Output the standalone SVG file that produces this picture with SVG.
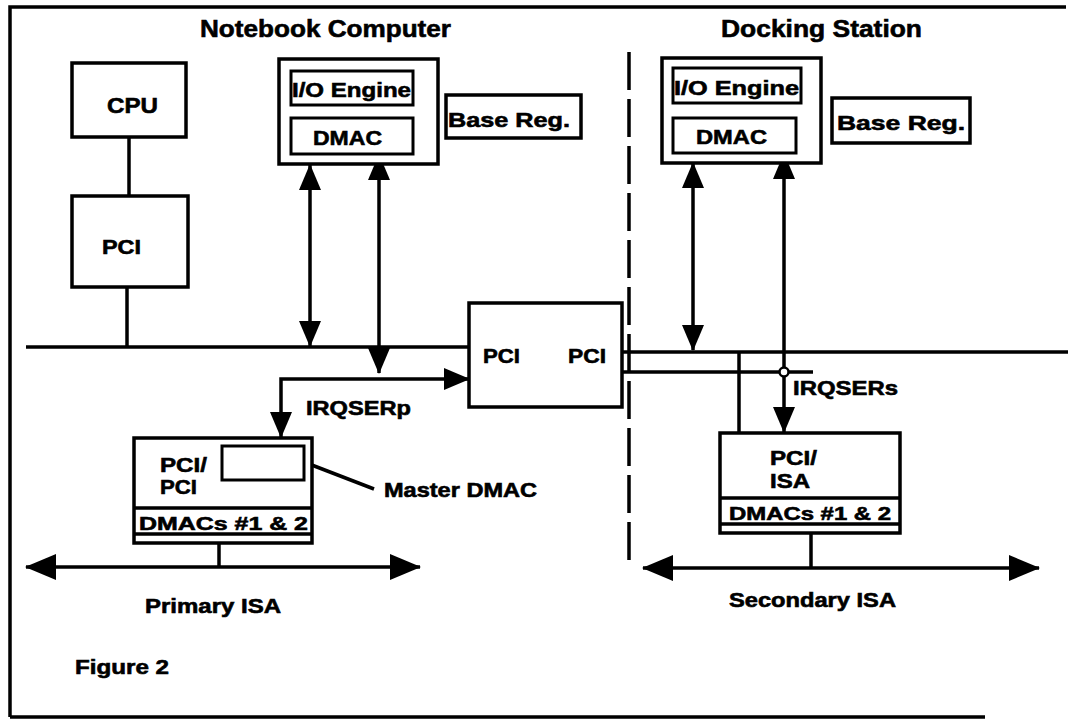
<svg xmlns="http://www.w3.org/2000/svg" width="1076" height="723" viewBox="0 0 1076 723">
<defs>
<style>
.bx{fill:#fff;stroke:#000;stroke-width:3.5}
.ib{fill:#fff;stroke:#000;stroke-width:3}
.ln{fill:none;stroke:#000;stroke-width:3.5}
.t{font-family:"Liberation Sans",Arial,sans-serif;font-weight:bold;fill:#000;stroke:#000;stroke-width:0.6}
</style>
<marker id="ah" viewBox="0 0 26 22" refX="25" refY="11" markerWidth="26" markerHeight="22" markerUnits="userSpaceOnUse" orient="auto-start-reverse"><path d="M0,0 L26,11 L0,22 Z" fill="#000"/></marker>
<marker id="ahl" viewBox="0 0 31 26" refX="30" refY="13" markerWidth="31" markerHeight="26" markerUnits="userSpaceOnUse" orient="auto-start-reverse"><path d="M0,0 L31,13 L0,26 Z" fill="#000"/></marker>
</defs>
<rect width="1076" height="723" fill="#fff"/>
<g id="frame">
<path class="ln" d="M10,717 V7 H1066 M10,717 H985" stroke-width="3"/>
<path class="ln" d="M629,52 V568" stroke-dasharray="38 9"/>
</g>
<g id="titles">
<text class="t" x="200" y="37" font-size="24" textLength="251" lengthAdjust="spacingAndGlyphs">Notebook Computer</text>
<text class="t" x="721" y="37" font-size="24" textLength="201" lengthAdjust="spacingAndGlyphs">Docking Station</text>
<text class="t" x="75" y="674" font-size="20" textLength="94" lengthAdjust="spacingAndGlyphs">Figure 2</text>
</g>
<g id="connectors">
<path class="ln" d="M129,137 V196"/>
<path class="ln" d="M127,287 V347"/>
<path class="ln" d="M26,347 H469"/>
<path class="ln" d="M310,165 V346" marker-start="url(#ah)" marker-end="url(#ah)"/>
<path class="ln" d="M379,155 V373" marker-start="url(#ah)" marker-end="url(#ah)"/>
<path class="ln" d="M469,379 H281 V437" marker-start="url(#ah)" marker-end="url(#ah)"/>
<path class="ln" d="M622,352 H1068"/>
<path class="ln" d="M622,372 H813"/>
<path class="ln" d="M739,352 V433"/>
<path class="ln" d="M693,163 V350" marker-start="url(#ah)" marker-end="url(#ah)"/>
<path class="ln" d="M784,154 V432" marker-start="url(#ah)" marker-end="url(#ah)"/>
<circle cx="784" cy="372" r="4.5" fill="#fff" stroke="#000" stroke-width="2.5"/>
<path class="ln" d="M219,543 V567"/>
<path class="ln" d="M26,567 H420" marker-start="url(#ahl)" marker-end="url(#ahl)"/>
<path class="ln" d="M811,533 V568"/>
<path class="ln" d="M643,568 H1039" marker-start="url(#ahl)" marker-end="url(#ahl)"/>
<path class="ln" d="M291,457 L374,489"/>
</g>
<g id="cpu">
<rect class="bx" x="72" y="63" width="114" height="74"/>
<text class="t" x="107" y="113" font-size="22" textLength="51" lengthAdjust="spacingAndGlyphs">CPU</text>
</g>
<g id="pci-host">
<rect class="bx" x="72" y="196" width="116" height="91"/>
<text class="t" x="102" y="254" font-size="20" textLength="39" lengthAdjust="spacingAndGlyphs">PCI</text>
</g>
<g id="nb-io">
<rect class="bx" x="279" y="59" width="159" height="105"/>
<rect class="ib" x="291" y="71" width="122" height="34"/>
<text class="t" x="292" y="97" font-size="21" textLength="119" lengthAdjust="spacingAndGlyphs">I/O Engine</text>
<rect class="ib" x="291" y="118" width="122" height="36"/>
<text class="t" x="313" y="145" font-size="21" textLength="69" lengthAdjust="spacingAndGlyphs">DMAC</text>
</g>
<g id="nb-basereg">
<rect class="bx" x="446" y="95" width="135" height="43"/>
<text class="t" x="448" y="127" font-size="21" textLength="122" lengthAdjust="spacingAndGlyphs">Base Reg.</text>
</g>
<g id="bridge">
<rect class="bx" x="469" y="303" width="153" height="104"/>
<text class="t" x="483" y="363" font-size="20" textLength="37" lengthAdjust="spacingAndGlyphs">PCI</text>
<text class="t" x="568" y="363" font-size="20" textLength="38" lengthAdjust="spacingAndGlyphs">PCI</text>
</g>
<g id="irqserp">
<text class="t" x="306" y="415" font-size="20" textLength="105" lengthAdjust="spacingAndGlyphs">IRQSERp</text>
</g>
<g id="pci-pci">
<rect class="bx" x="134" y="438" width="178" height="105"/>
<rect class="ib" x="222" y="446" width="82" height="34"/>
<path class="ln" d="M134,508 H312 M134,534 H312" stroke-width="3"/>
<text class="t" x="160" y="472" font-size="20" textLength="47" lengthAdjust="spacingAndGlyphs">PCI/</text>
<text class="t" x="160" y="494" font-size="20" textLength="37" lengthAdjust="spacingAndGlyphs">PCI</text>
<text class="t" x="139" y="530" font-size="19" textLength="169" lengthAdjust="spacingAndGlyphs">DMACs #1 &amp; 2</text>
</g>
<g id="master-dmac">
<text class="t" x="384" y="497" font-size="20" textLength="153" lengthAdjust="spacingAndGlyphs">Master DMAC</text>
</g>
<g id="primary-isa">
<text class="t" x="145" y="613" font-size="20" textLength="136" lengthAdjust="spacingAndGlyphs">Primary ISA</text>
</g>
<g id="db-io">
<rect class="bx" x="662" y="58" width="159" height="105"/>
<rect class="ib" x="673" y="68" width="128" height="35"/>
<text class="t" x="674" y="95" font-size="21" textLength="125" lengthAdjust="spacingAndGlyphs">I/O Engine</text>
<rect class="ib" x="673" y="118" width="123" height="35"/>
<text class="t" x="696" y="144" font-size="21" textLength="71" lengthAdjust="spacingAndGlyphs">DMAC</text>
</g>
<g id="db-basereg">
<rect class="bx" x="832" y="98" width="138" height="45"/>
<text class="t" x="837" y="130" font-size="21" textLength="128" lengthAdjust="spacingAndGlyphs">Base Reg.</text>
</g>
<g id="irqsers">
<text class="t" x="793" y="395" font-size="20" textLength="105" lengthAdjust="spacingAndGlyphs">IRQSERs</text>
</g>
<g id="pci-isa">
<rect class="bx" x="720" y="433" width="180" height="100"/>
<path class="ln" d="M720,498 H900 M720,524 H900" stroke-width="3"/>
<text class="t" x="770" y="465" font-size="20" textLength="47" lengthAdjust="spacingAndGlyphs">PCI/</text>
<text class="t" x="770" y="488" font-size="20" textLength="40" lengthAdjust="spacingAndGlyphs">ISA</text>
<text class="t" x="729" y="520" font-size="19" textLength="162" lengthAdjust="spacingAndGlyphs">DMACs #1 &amp; 2</text>
</g>
<g id="secondary-isa">
<text class="t" x="729" y="607" font-size="20" textLength="167" lengthAdjust="spacingAndGlyphs">Secondary ISA</text>
</g>
</svg>
